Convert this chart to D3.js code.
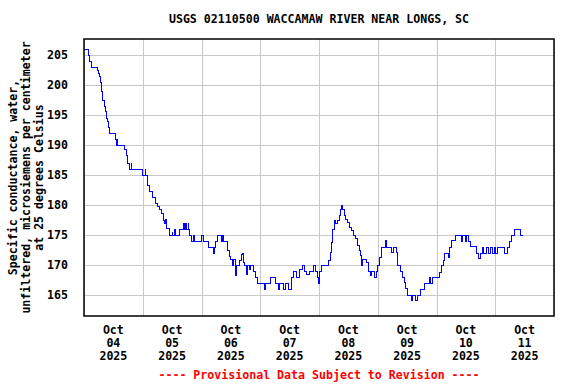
<!DOCTYPE html>
<html>
<head>
<meta charset="utf-8">
<script src="https://cdn.jsdelivr.net/npm/d3@7"></script>
<style>
  body { margin: 0; background: #fff; }
  text { font-family: "DejaVu Sans Mono", monospace; font-weight: bold; font-size: 11.6px; }
</style>
</head>
<body>
<div class="chart"></div>
<script>
// hours after Oct 04 2025 00:00
const hours = [0,1.9,2.45,3.0,5.45,5.85,6.26,6.8,7.2,7.6,8.2,8.6,9.0,9.8,10.1,10.35,12.8,13.1,13.3,13.6,
  16.6,17.2,17.7,18.65,19.3,19.6,23.8,25.0,25.3,26.1,26.7,28.05,29.1,30.2,31.0,31.6,32.4,33.0,33.3,33.5,
  33.8,35.1,36.0,36.3,37.0,37.3,38.9,40.6,40.9,41.5,41.8,42.5,42.8,43.3,44.0,44.6,45.0,48.1,48.7,50.7,
  52.8,53.4,53.8,54.5,56.2,56.5,56.9,58.6,59.4,59.9,60.8,61.2,61.8,62.0,62.2,63.5,64.3,64.8,65.1,65.6,
  66.3,66.7,67.5,68.1,69.2,70.0,70.8,73.6,74.0,76.0,78.2,79.4,79.8,81.7,82.3,83.5,84.8,85.5,86.9,88.2,
  89.1,90.0,91.0,92.3,93.7,94.5,95.3,95.7,96.1,96.4,97.2,99.9,100.5,101.0,101.6,102.3,102.6,103.5,104.3,104.6,
  105.0,105.7,106.3,107.0,107.7,108.4,109.2,110.0,110.8,111.7,112.5,113.0,113.3,113.6,115.2,116.3,117.0,117.6,118.6,119.3,
  120.0,120.9,121.5,123.1,123.6,125.5,126.4,127.5,128.1,129.1,130.2,130.9,131.3,132.2,133.7,134.3,135.6,136.3,137.3,139.0,
  141.1,141.7,142.4,145.2,146.2,146.7,147.1,148.7,149.2,150.0,151.7,154.4,154.7,155.8,156.3,156.9,157.7,160.4,161.2,162.0,
  162.6,163.3,164.6,165.3,166.0,166.7,167.5,168.0,169.1,171.6,172.9,173.8,174.8,175.9,177.8,178.4,179.2];

const values = [206,205,204,203,202.5,202,201.4,200.4,199,197.5,196.5,195.6,194.4,194,193,192,191,190,191,190,
  189.2,188.3,187,186,187,186,185,186,185,183.2,182.2,181.2,180.3,179.7,179.2,178.6,177.5,177,177.6,177,
  176.1,175,175.5,175,176,175,176,177,176,177,176,177,176,175,174,175,174,175,174,173,
  172,173,174,175,174,175,174,172.5,171.5,171,170,171,169.3,168.2,170,170.8,171.8,172,170.5,170,
  168.5,170,169.3,170,169,168,167,166,167,168,167,166,167,166,167,166,168,169,168,169.3,
  170,169,168.5,169,170,169,168,167,168.5,169,170,170.7,172.1,173.8,176,177.4,177,177.5,178.2,179.3,
  180,179.3,178.2,177.6,177.1,176.3,175.7,175,174.4,173.2,172.4,171.6,169.9,171,170.5,169,168.2,169,167.9,169,
  170,171.3,172.9,174.1,172.9,172.1,173,172.1,170,169,167.9,167.1,166.1,165,164.1,165,164.1,165,166,167,
  168,167,168,168.8,170,170.7,172,171.3,172.9,174.1,175,174,175,174,175,174,173.1,172,171.1,172,
  173,172,173,172,173,172,173,172,173,172,173,174,175,176,176,175,175];

const days = ["04","05","06","07","08","09","10","11"];
const yTicks = [165,170,175,180,185,190,195,200,205];
const title = "USGS 02110500 WACCAMAW RIVER NEAR LONGS, SC";
const yLabel = ["Specific conductance, water,",
  "unfiltered, microsiemens per centimeter",
  "at 25 degrees Celsius"];
const note = "---- Provisional Data Subject to Revision ----";

const margin = ({top: 39, right: 22, bottom: 68, left: 84});
const width = 576 - margin.left - margin.right;
const height = 384 - margin.top - margin.bottom;

const start = new Date(2025, 9, 4);
const data = hours.map((h, i) => ({date: d3.timeMinute.offset(start, Math.round(h * 60)), value: values[i]}));

const svg = d3.select('.chart').append('svg')
    .attr("width", width + margin.left + margin.right)
    .attr("height", height + margin.top + margin.bottom)
  .append("g")
    .attr("transform", "translate(" + margin.left + "," + margin.top + ")");

const xScale = d3.scaleTime()
    .domain([start, d3.timeDay.offset(start, 8)])
    .range([0, width]);

const yScale = d3.scaleLinear()
    .domain([161.5, 207.67])
    .range([height, 0]);

// grid
svg.append("g")
    .attr("class", "grid")
    .attr("transform", `translate(0, ${height})`)
    .call(d3.axisBottom(xScale).ticks(d3.timeDay.every(1)).tickSize(-height).tickFormat(""))
    .call(g => g.select(".domain").remove())
    .call(g => g.selectAll("line").attr("stroke", "#c8c8c8").attr("shape-rendering", "crispEdges"));

svg.append("g")
    .attr("class", "grid")
    .call(d3.axisLeft(yScale).tickValues(yTicks).tickSize(-width).tickFormat(""))
    .call(g => g.select(".domain").remove())
    .call(g => g.selectAll("line").attr("stroke", "#c8c8c8").attr("shape-rendering", "crispEdges"));

// y tick labels
const yAxis = svg.append("g")
    .call(d3.axisLeft(yScale).tickValues(yTicks).tickSize(0).tickPadding(16))
    .call(g => g.select(".domain").remove());
yAxis.selectAll("text").attr("fill", "#000").style("font-size", "11.6px");

// x labels at noon of each day
const noons = days.map((d, i) => d3.timeHour.offset(start, i * 24 + 12));
const xLab = svg.append("g").attr("transform", `translate(0, ${height})`);
xLab.selectAll("text")
    .data(noons)
    .join("text")
    .attr("x", d => xScale(d))
    .attr("y", 18)
    .attr("text-anchor", "middle")
    .each(function(d, i) {
      const t = d3.select(this);
      ["Oct", days[i], "2025"].forEach((s, k) => {
        t.append("tspan").attr("x", xScale(d)).attr("dy", k === 0 ? 0 : 13).text(s);
      });
    });

// data line
const line = d3.line()
    .x(d => xScale(d.date))
    .y(d => yScale(d.value))
    .curve(d3.curveStepAfter);

svg.append("path")
    .datum(data)
    .attr("fill", "none")
    .attr("stroke", "#0000ff")
    .attr("stroke-width", 1)
    .attr("shape-rendering", "crispEdges")
    .attr("d", line);

// frame
svg.append("rect")
    .attr("width", width)
    .attr("height", height)
    .attr("fill", "none")
    .attr("stroke", "#000")
    .attr("stroke-width", 1.5);

// title
svg.append("text")
    .attr("x", width / 2)
    .attr("y", -16)
    .attr("text-anchor", "middle")
    .text(title);

// y axis label, three rotated lines
const yl = svg.append("text")
    .attr("transform", `translate(${17 - margin.left}, ${height / 2}) rotate(-90)`)
    .attr("text-anchor", "middle");
yLabel.forEach((s, k) => {
  yl.append("tspan").attr("x", 0).attr("y", k * 13).text(s);
});

// provisional note
svg.append("text")
    .attr("x", width / 2)
    .attr("y", height + 63)
    .attr("text-anchor", "middle")
    .attr("fill", "#ff0000")
    .text(note);
</script>
</body>
</html>
